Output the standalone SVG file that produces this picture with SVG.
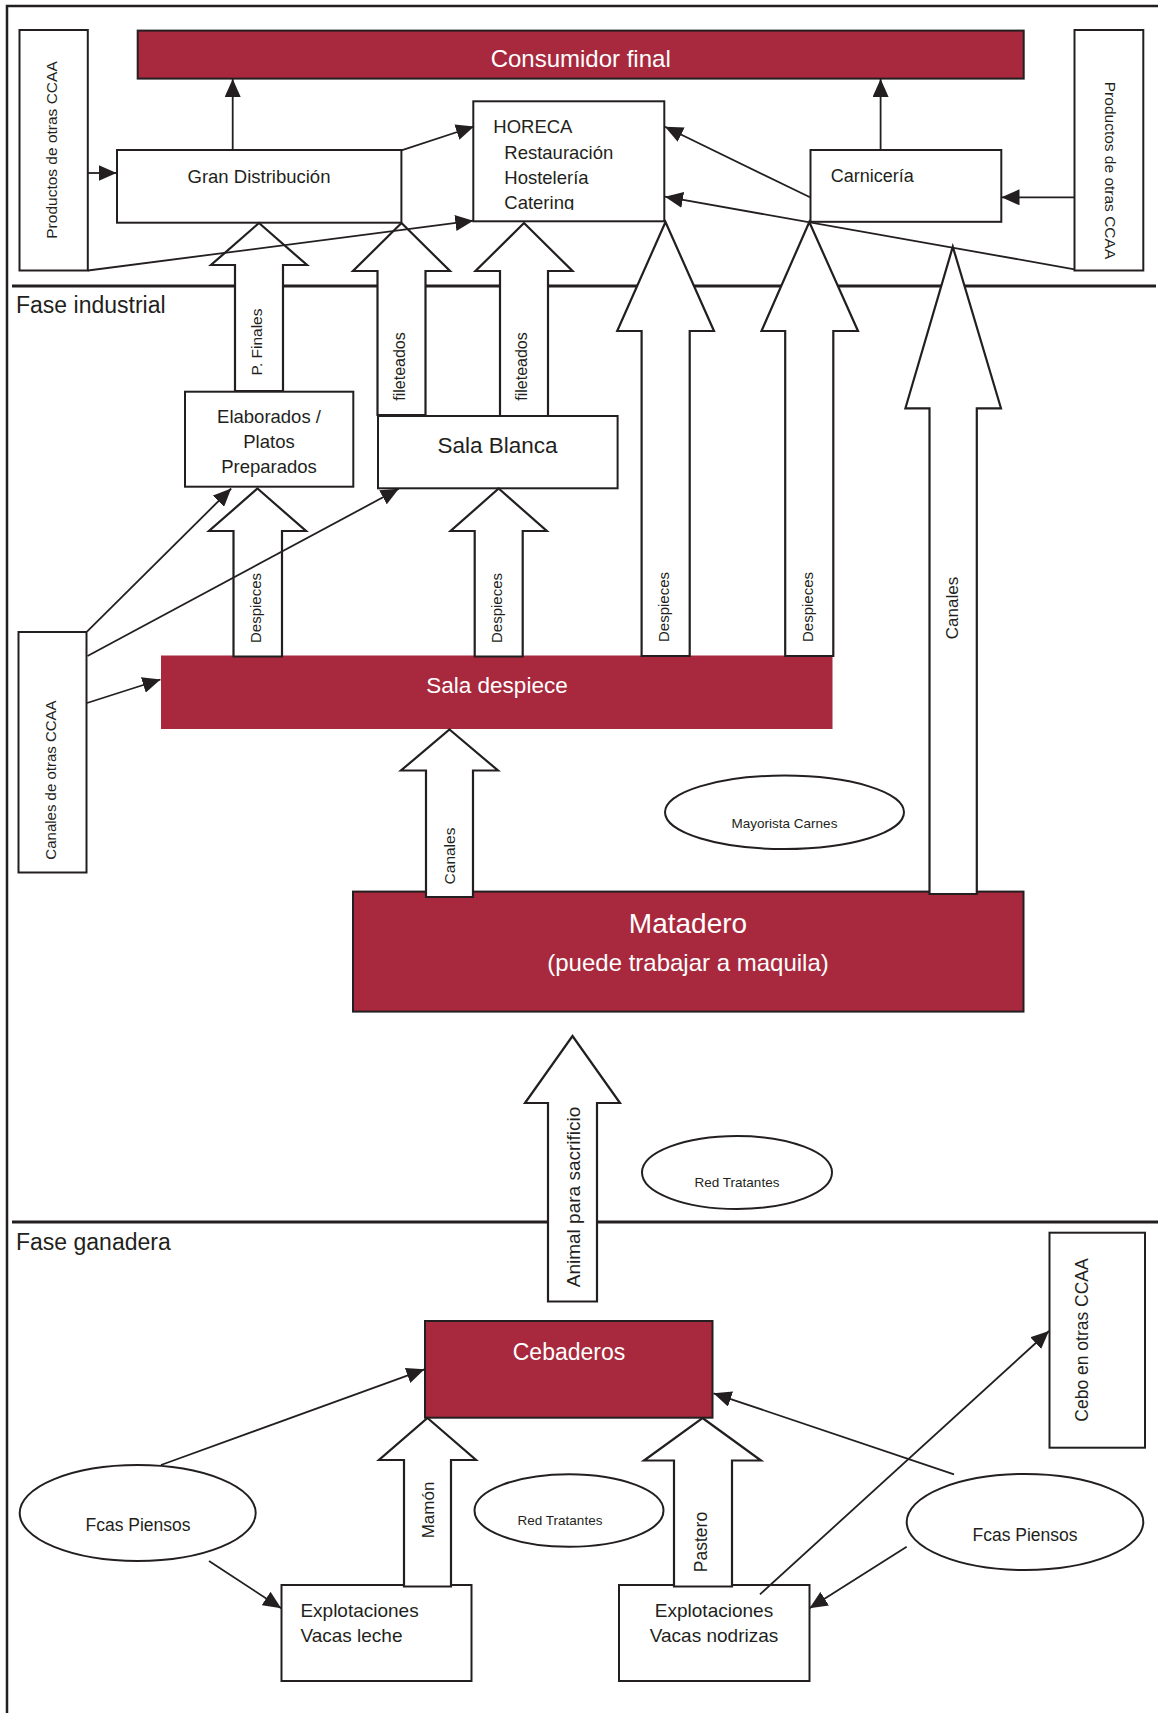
<svg xmlns="http://www.w3.org/2000/svg" width="1158" height="1713" viewBox="0 0 1158 1713">
<defs>
<style>
.box{fill:#fff;stroke:#231f20;stroke-width:2}
.red{fill:#A8293D;stroke:#231f20;stroke-width:2}
.redns{fill:#A8293D}
.blk{fill:#fff;stroke:#231f20;stroke-width:2.2;stroke-linejoin:miter}
.ln{stroke:#231f20;stroke-width:1.8;fill:none;marker-end:url(#ah)}
.sep{stroke:#231f20;stroke-width:3;fill:none}
text{font-family:"Liberation Sans",Arial,sans-serif;fill:#231f20}
.w{fill:#fff}
.m{text-anchor:middle}
</style>
<marker id="ah" markerUnits="userSpaceOnUse" markerWidth="18" markerHeight="16" refX="18" refY="8" orient="auto">
<path d="M0,0 L18,8 L0,16 z" fill="#231f20"/>
</marker>
<clipPath id="horclip"><rect x="473" y="101" width="191" height="109"/></clipPath>
</defs>
<rect width="1158" height="1713" fill="#fff"/>
<g id="frame">
<path d="M7,1713 V6 H1158" fill="none" stroke="#231f20" stroke-width="2.5"/>
<path class="sep" d="M12,286 H1156"/>
<path class="sep" d="M12,1222 H1158"/>
<text x="16" y="313" font-size="23">Fase industrial</text>
<text x="16" y="1250" font-size="23">Fase ganadera</text>
</g>
<g id="consumidor">
<rect class="red" x="137.7" y="30.6" width="886" height="48"/>
<text class="w m" x="580.7" y="66.5" font-size="24">Consumidor final</text>
</g>
<g id="productos-izq">
<rect class="box" x="19.5" y="30" width="68.3" height="240.5"/>
<text class="m" transform="translate(52,150) rotate(-90)" dy="0.35em" font-size="15.5">Productos de otras CCAA</text>
</g>
<g id="productos-der">
<rect class="box" x="1074.5" y="30" width="68.8" height="240.5"/>
<text class="m" transform="translate(1110.5,170.5) rotate(90)" dy="0.35em" font-size="15.5">Productos de otras CCAA</text>
</g>
<g id="gran-distribucion">
<rect class="box" x="117" y="150" width="284.4" height="72.7"/>
<text class="m" x="259" y="183" font-size="18.5">Gran Distribución</text>
</g>
<g id="horeca">
<rect class="box" x="473.3" y="101.3" width="191" height="120"/>
<g clip-path="url(#horclip)" font-size="18.5">
<text x="493.3" y="133.3">HORECA</text>
<text x="504.3" y="158.5">Restauración</text>
<text x="504.3" y="184">Hostelería</text>
<text x="504.3" y="208.5">Catering</text>
</g>
</g>
<g id="carniceria">
<rect class="box" x="810.5" y="150" width="190.8" height="71.8"/>
<text x="830.7" y="181.7" font-size="18">Carnicería</text>
</g>
<g id="elaborados">
<rect class="box" x="185" y="391.7" width="168.3" height="95"/>
<text class="m" x="269" y="423.3" font-size="18.5">Elaborados /</text>
<text class="m" x="269" y="448.3" font-size="18.5">Platos</text>
<text class="m" x="269" y="473.3" font-size="18.5">Preparados</text>
</g>
<g id="sala-blanca">
<rect class="box" x="378" y="416" width="239.6" height="72.3"/>
<text class="m" x="497.6" y="452.7" font-size="22.5">Sala Blanca</text>
</g>
<g id="canales-otras">
<rect class="box" x="18.5" y="632" width="68" height="240.5"/>
<text class="m" transform="translate(50.5,780) rotate(-90)" dy="0.35em" font-size="15">Canales de otras CCAA</text>
</g>
<g id="sala-despiece">
<rect class="redns" x="161" y="655.5" width="671.5" height="73.5"/>
<text class="w m" x="497" y="693" font-size="22.5">Sala despiece</text>
</g>
<g id="mayorista">
<ellipse class="box" cx="784.5" cy="812.3" rx="119.5" ry="36.7"/>
<text class="m" x="784.5" y="828" font-size="13.5">Mayorista Carnes</text>
</g>
<g id="matadero">
<rect class="red" x="353" y="891.6" width="670.5" height="120"/>
<text class="w m" x="688" y="933" font-size="28">Matadero</text>
<text class="w m" x="688" y="971" font-size="24">(puede trabajar a maquila)</text>
</g>
<g id="red-tratantes-1">
<ellipse class="box" cx="737" cy="1172.5" rx="95" ry="36.5"/>
<text class="m" x="737" y="1186.7" font-size="13.5">Red Tratantes</text>
</g>
<g id="cebo-otras">
<rect class="box" x="1049.5" y="1232.7" width="95.5" height="215"/>
<text class="m" transform="translate(1082,1340) rotate(-90)" dy="0.35em" font-size="17.5">Cebo en otras CCAA</text>
</g>
<g id="cebaderos">
<rect class="red" x="425" y="1321" width="287.5" height="96.7"/>
<text class="w m" x="569" y="1360" font-size="23">Cebaderos</text>
</g>
<g id="fcas-piensos-izq">
<ellipse class="box" cx="137.7" cy="1513" rx="118" ry="48"/>
<text class="m" x="138" y="1531" font-size="17.5">Fcas Piensos</text>
</g>
<g id="red-tratantes-2">
<ellipse class="box" cx="569" cy="1510.5" rx="94.5" ry="36.3"/>
<text class="m" x="560" y="1525" font-size="13.5">Red Tratantes</text>
</g>
<g id="fcas-piensos-der">
<ellipse class="box" cx="1025" cy="1522" rx="118.3" ry="48"/>
<text class="m" x="1025" y="1541" font-size="17.5">Fcas Piensos</text>
</g>
<g id="vacas-leche">
<rect class="box" x="281.5" y="1585" width="190" height="96"/>
<text x="300.4" y="1616.7" font-size="19">Explotaciones</text>
<text x="300.4" y="1642.3" font-size="19">Vacas leche</text>
</g>
<g id="vacas-nodrizas">
<rect class="box" x="619" y="1585" width="190.5" height="96"/>
<text class="m" x="714" y="1616.7" font-size="19">Explotaciones</text>
<text class="m" x="714" y="1642.3" font-size="19">Vacas nodrizas</text>
</g>
<g id="connectors">
<g id="block-arrows">
<polygon class="blk" points="259,223 307,265 283,265 283,391 235,391 235,265 211,265"/>
<text class="m" transform="translate(256.5,342) rotate(-90)" dy="0.35em" font-size="15.5">P. Finales</text>
<polygon class="blk" points="401.5,223 450,271 425.5,271 425.5,415 377.5,415 377.5,271 353,271"/>
<text class="m" transform="translate(399,366.5) rotate(-90)" dy="0.35em" font-size="16">fileteados</text>
<polygon class="blk" points="524,223 572.5,271 548,271 548,416 500,416 500,271 475.5,271"/>
<text class="m" transform="translate(521.5,366.5) rotate(-90)" dy="0.35em" font-size="16">fileteados</text>
<polygon class="blk" points="257.5,488.5 306,531 282,531 282,656.5 233.5,656.5 233.5,531 209,531"/>
<text class="m" transform="translate(256,608) rotate(-90)" dy="0.35em" font-size="15">Despieces</text>
<polygon class="blk" points="498.7,488.5 546.8,531 522.7,531 522.7,656.5 474.7,656.5 474.7,531 450.6,531"/>
<text class="m" transform="translate(497,608) rotate(-90)" dy="0.35em" font-size="15">Despieces</text>
<polygon class="blk" points="665.5,222 714,331 689.7,331 689.7,656 641.6,656 641.6,331 617.2,331"/>
<text class="m" transform="translate(664,607) rotate(-90)" dy="0.35em" font-size="15">Despieces</text>
<polygon class="blk" points="809.3,222 858,331 833.3,331 833.3,656 785.2,656 785.2,331 761.5,331"/>
<text class="m" transform="translate(808,607) rotate(-90)" dy="0.35em" font-size="15">Despieces</text>
<polygon class="blk" points="952.8,246.7 1001,408.3 976.8,408.3 976.8,894 929.5,894 929.5,408.3 905.4,408.3"/>
<text class="m" transform="translate(952.5,608) rotate(-90)" dy="0.35em" font-size="17">Canales</text>
<polygon class="blk" points="449.5,729.5 498,770.5 473,770.5 473,897 426,897 426,770.5 401,770.5"/>
<text class="m" transform="translate(449.5,856) rotate(-90)" dy="0.35em" font-size="15.5">Canales</text>
<polygon class="blk" points="572.5,1036 620,1103 597,1103 597,1301.5 548,1301.5 548,1103 525,1103"/>
<text class="m" transform="translate(573,1197) rotate(-90)" dy="0.35em" font-size="19">Animal para sacrificio</text>
<polygon class="blk" points="427.5,1418 476,1460 451,1460 451,1586.5 404,1586.5 404,1460 379,1460"/>
<text class="m" transform="translate(428,1510) rotate(-90)" dy="0.35em" font-size="17">Mamón</text>
<polygon class="blk" points="702.5,1418 761,1460.5 732,1460.5 732,1586.5 674,1586.5 674,1460.5 644,1460.5"/>
<text class="m" transform="translate(701,1542) rotate(-90)" dy="0.35em" font-size="17.5">Pastero</text>
</g>
<g id="lines">
<path class="ln" d="M232.7,150 V79"/>
<path class="ln" d="M880.6,150 V79"/>
<path class="ln" d="M88,173 H116.5"/>
<path class="ln" d="M1074.5,197.3 H1001.5"/>
<path class="ln" d="M401.4,150.3 L474,126.5"/>
<path class="ln" d="M88,270.5 L473.3,220.7"/>
<path class="ln" d="M810,197.3 L665,126.7"/>
<path class="ln" d="M1074.5,269.3 L665,196.7"/>
<path class="ln" d="M87,631.7 L231.2,488.5"/>
<path class="ln" d="M87.5,656 L398.8,488.8"/>
<path class="ln" d="M87,703 L160.5,679.5"/>
<path class="ln" d="M161,1465 L424.5,1369.3"/>
<path class="ln" d="M209,1561 L281.2,1608.3"/>
<path class="ln" d="M954,1474.3 L713.5,1393.3"/>
<path class="ln" d="M906.7,1546.7 L809.5,1608.3"/>
<path class="ln" d="M760,1594.3 L1049,1331"/>
</g>
</g>
</svg>
